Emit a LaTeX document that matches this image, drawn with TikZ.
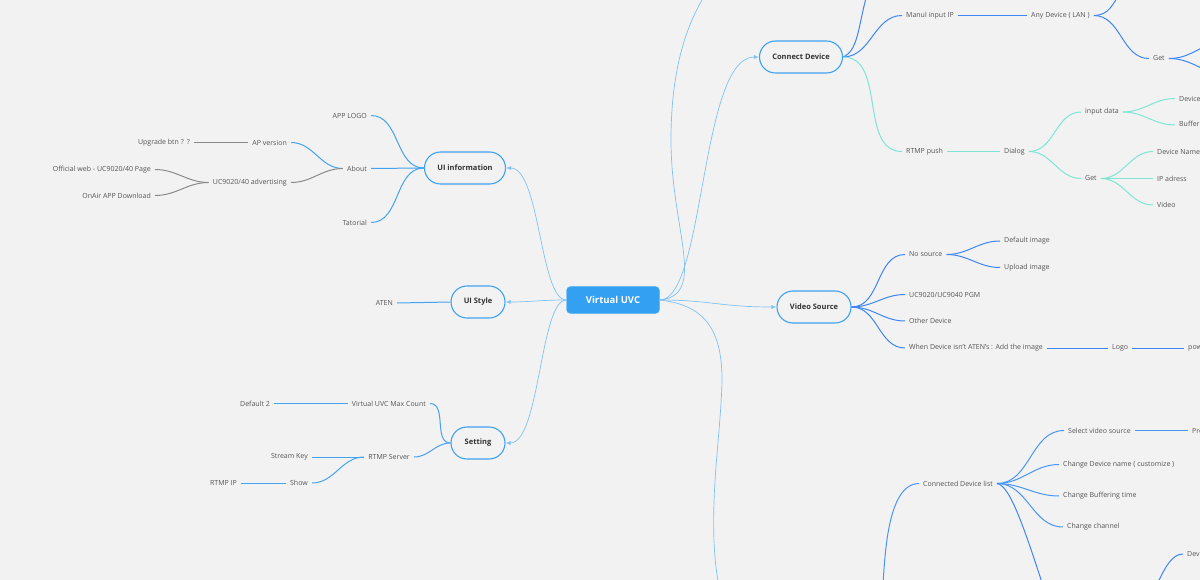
\documentclass[tikz,border=0pt]{standalone}
\usepackage{fontspec}
\setmainfont{Open Sans}
\usetikzlibrary{arrows.meta,shapes.misc}
\definecolor{bg}{HTML}{F2F2F2}
\definecolor{rootblue}{HTML}{33A0F2}
\definecolor{pillblue}{HTML}{3FA2F1}
\definecolor{linklight}{HTML}{7FC2F3}
\definecolor{lblue}{HTML}{45A3F0}
\definecolor{royal}{HTML}{3F86F5}
\definecolor{cdblue}{HTML}{4A96F5}
\definecolor{teal}{HTML}{7FE6D3}
\definecolor{greyline}{HTML}{8A8A8A}
\definecolor{txt}{HTML}{555555}
\definecolor{dark}{HTML}{333333}
\begin{document}
\begin{tikzpicture}[x=1pt,y=-1pt,
  lbl/.style={font=\fontsize{7}{8}\selectfont, text=txt, inner xsep=4pt, inner ysep=1pt},
  lw/.style={lbl, anchor=west},
  le/.style={lbl, anchor=east},
  pill/.style={rounded rectangle, draw=pillblue, line width=1.1pt, minimum height=32pt, inner xsep=2pt,
    font=\fontsize{7.5}{9}\selectfont\bfseries, text=dark},
  rootbox/.style={fill=rootblue, draw=rootblue!80!white, rounded corners=4pt, minimum width=93pt, minimum height=27pt,
    font=\fontsize{9.5}{11}\selectfont\bfseries, text=white},
  link/.style={draw=linklight, line width=0.7pt},
  arr/.style={link, -{Latex[length=5pt,width=4pt]}},
  bl/.style={draw=lblue, line width=1pt},
  gl/.style={draw=greyline, line width=1pt},
  rl/.style={draw=royal, line width=1pt},
  tl/.style={draw=teal, line width=1pt},
  cl/.style={draw=cdblue, line width=1pt},
  rc/.style={out=0,in=180},
  lc/.style={out=180,in=0}
]
\fill[bg] (0,0) rectangle (1200,580);
\useasboundingbox (0,0) rectangle (1200,580);

% main nodes
\node[rootbox] (root) at (613,300) {Virtual UVC};
\node[pill, minimum width=85pt] (uiinfo) at (465,168) {UI information};
\node[pill, minimum width=58pt] (uistyle) at (478,302) {UI Style};
\node[pill, minimum width=58pt] (setting) at (478,443) {Setting};
\node[pill, minimum width=87pt] (conn) at (801,57) {Connect Device};
\node[pill, minimum width=78pt] (vsrc) at (814,307) {Video Source};

% left labels
\node[le] (applogo) at (371,115.5) {APP LOGO};
\node[le] (about) at (371,168.5) {About};
\node[le] (tatorial) at (371,222.5) {Tatorial};
\node[le] (apver) at (291,142.5) {AP version};
\node[le] (upgrade) at (194,142.5) {Upgrade btn ?\,\ ?};
\node[le] (ucadv) at (291,182.5) {UC9020/40 advertising};
\node[le] (official) at (155,169.5) {Official web - UC9020/40 Page};
\node[le] (onair) at (155,195.5) {OnAir APP Download};
\node[le] (aten) at (397,303) {ATEN};
\node[le] (maxcount) at (430,403.5) {Virtual UVC Max Count};
\node[le] (default2) at (274,403.5) {Default 2};
\node[le] (rtmpsrv) at (414,457) {RTMP Server};
\node[le] (streamkey) at (312,457) {Stream Key};
\node[le] (show) at (312,483) {Show};
\node[le] (rtmpip) at (241,483) {RTMP IP};

% right labels
\node[lw] (manul) at (902,15.5) {Manul input IP};
\node[lw] (anydev) at (1027,15.5) {Any Device ( LAN )};
\node[lw] (get1) at (1149,58.5) {Get};
\node[lw] (rtmppush) at (902,151.5) {RTMP push};
\node[lw] (dialog) at (1000,151.5) {Dialog};
\node[lw] (inputdata) at (1081,112) {input data};
\node[lw] (devA) at (1175,98.5) {Device Name};
\node[lw] (bufA) at (1175,125) {Buffering time};
\node[lw] (get2) at (1081,178.5) {Get};
\node[lw] (devname) at (1153,151.5) {Device Name};
\node[lw] (ipadress) at (1153,178.5) {IP adress};
\node[lw] (video) at (1153,205) {Video};
\node[lw] (nosource) at (905,254.5) {No source};
\node[lw] (pgm) at (905,294.5) {UC9020/UC9040 PGM};
\node[lw] (other) at (905,321) {Other Device};
\node[lw] (when) at (905,348) {When Device isn't ATEN's : Add the image};
\node[lw] (defimg) at (1000,241) {Default image};
\node[lw] (upimg) at (1000,267.5) {Upload image};
\node[lw] (logo) at (1108,348) {Logo};
\node[lw] (pow) at (1184,348) {power};
\node[lw] (cdlist) at (919,483.5) {Connected Device list};
\node[lw] (selvs) at (1064,430.5) {Select video source};
\node[lw] (chname) at (1059,464.5) {Change Device name ( customize )};
\node[lw] (chbuf) at (1059,496) {Change Buffering time};
\node[lw] (chch) at (1063,527) {Change channel};
\node[lw] (prev) at (1188,430.5) {Preview};
\node[lw] (devB) at (1183,554) {Device};

% off-canvas ends
\coordinate (topA) at (712,-15);
\coordinate (topB) at (870,-15);
\coordinate (topC) at (1125,-15);
\coordinate (g1a) at (1215,42);
\coordinate (g1b) at (1215,74);
\coordinate (botA) at (720,592);
\coordinate (botB) at (877,595);
\coordinate (botC) at (1046,595);
\coordinate (botD) at (1142,595);

% root connectors
\draw[arr] (root.west) .. controls (540,300) and (540,168) .. (uiinfo.east);
\draw[arr] (root.west) .. controls (540,300) and (530,302) .. (uistyle.east);
\draw[arr] (root.west) .. controls (540,300) and (540,443) .. (setting.east);
\draw[arr] (root.east) .. controls (705,300) and (700,57) .. (conn.west);
\draw[arr] (root.east) .. controls (710,300) and (720,307) .. (vsrc.west);
\draw[link] (root.east) .. controls (708,295) and (671,230) .. (671,140) .. controls (671,70) and (686,20) .. (topA);
\draw[link] (root.east) .. controls (705,305) and (722,330) .. (722,380) .. controls (721,440) and (705,520) .. (botA);

% UI information branch
\draw[bl] (uiinfo.west) to[lc] (applogo.east);
\draw[bl] (uiinfo.west) to[lc] (about.east);
\draw[bl] (uiinfo.west) to[lc] (tatorial.east);
\draw[bl] (about.west) to[lc] (apver.east);
\draw[gl] (about.west) to[lc] (ucadv.east);
\draw[gl] (apver.west) -- (upgrade.east);
\draw[gl] (ucadv.west) to[lc] (official.east);
\draw[gl] (ucadv.west) to[lc] (onair.east);

% UI style
\draw[bl] (uistyle.west) -- (aten.east);

% Setting
\draw[bl] (setting.west) to[lc] (maxcount.east);
\draw[bl] (setting.west) to[lc] (rtmpsrv.east);
\draw[bl] (maxcount.west) -- (default2.east);
\draw[bl] (rtmpsrv.west) -- (streamkey.east);
\draw[bl] (rtmpsrv.west) to[lc] (show.east);
\draw[bl] (show.west) -- (rtmpip.east);

% Connect Device
\draw[rl] (conn.east) .. controls (860,50) and (858,20) .. (topB);
\draw[rl] (conn.east) to[rc] (manul.west);
\draw[rl] (manul.east) -- (anydev.west);
\draw[rl] (anydev.east) .. controls (1110,15) and (1112,5) .. (topC);
\draw[rl] (anydev.east) to[rc] (get1.west);
\draw[rl] (get1.east) to[out=0,in=200] (g1a);
\draw[rl] (get1.east) to[out=0,in=160] (g1b);
\draw[tl] (conn.east) to[rc] (rtmppush.west);
\draw[tl] (rtmppush.east) -- (dialog.west);
\draw[tl] (dialog.east) to[rc] (inputdata.west);
\draw[tl] (dialog.east) to[rc] (get2.west);
\draw[tl] (inputdata.east) to[rc] (devA.west);
\draw[tl] (inputdata.east) to[rc] (bufA.west);
\draw[tl] (get2.east) to[rc] (devname.west);
\draw[tl] (get2.east) -- (ipadress.west);
\draw[tl] (get2.east) to[rc] (video.west);

% Video Source
\draw[rl] (vsrc.east) to[rc] (nosource.west);
\draw[rl] (vsrc.east) to[rc] (pgm.west);
\draw[rl] (vsrc.east) to[rc] (other.west);
\draw[rl] (vsrc.east) to[rc] (when.west);
\draw[rl] (nosource.east) to[rc] (defimg.west);
\draw[rl] (nosource.east) to[rc] (upimg.west);
\draw[rl] (when.east) -- (logo.west);
\draw[rl] (logo.east) -- (pow.west);

% Connected Device list
\draw[cl] (botB) to[out=-75,in=180] (cdlist.west);
\draw[cl] (cdlist.east) to[rc] (selvs.west);
\draw[cl] (cdlist.east) to[rc] (chname.west);
\draw[cl] (cdlist.east) to[rc] (chbuf.west);
\draw[cl] (cdlist.east) to[rc] (chch.west);
\draw[rl] (cdlist.east) .. controls (1010,485) and (1025,530) .. (botC);
\draw[cl] (selvs.east) -- (prev.west);
\draw[rl] (botD) to[out=-60,in=180] (devB.west);
\end{tikzpicture}
\end{document}
